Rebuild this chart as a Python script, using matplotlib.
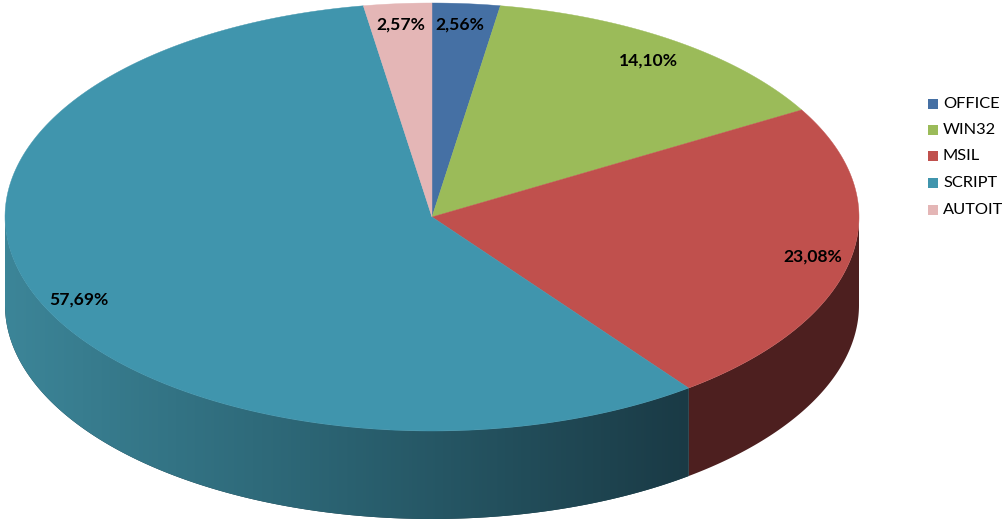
import numpy as np
import matplotlib
matplotlib.use("Agg")
import matplotlib.pyplot as plt
from matplotlib.patches import Polygon, Rectangle
from matplotlib.colors import LinearSegmentedColormap

categories = ["OFFICE", "WIN32", "MSIL", "SCRIPT", "AUTOIT"]
values = [2.56, 14.10, 23.08, 57.69, 2.57]
labels = ["2,56%", "14,10%", "23,08%", "57,69%", "2,57%"]
colors = ["#4570A4", "#9BBB59", "#C0504D", "#4095AD", "#E4B6B6"]
label_pos = [(460, 25), (648, 61), (813, 257), (79, 300), (401, 25)]
side_msil = "#4D1F1F"
side_script = ["#1A3A45", "#2A6170", "#3C8598"]

W, H = 1008, 529
cx, cy, rx, ry, depth = 432.0, 217.0, 427.0, 214.0, 88.0

plt.rcParams["font.family"] = ["Lato", "DejaVu Sans"]
fig = plt.figure(figsize=(W / 100, H / 100), dpi=100)
ax = fig.add_axes([0, 0, 1, 1])


def pt(a, dy=0.0):
    return cx + rx * np.sin(a), cy - ry * np.cos(a) + dy


def wall(a0, a1):
    aa = np.linspace(a0, a1, 300)
    x, y = pt(aa)
    x2, y2 = pt(aa[::-1], depth)
    return np.c_[np.r_[x, x2], np.r_[y, y2]]


edges = np.radians(np.concatenate([[0], np.cumsum(values)]) * 3.6 / (sum(values) / 100))

# side wall: MSIL part is flat (runs slightly under the SCRIPT wall so no seam shows)
ax.add_patch(Polygon(wall(np.pi / 2, edges[3]), closed=True, fc=side_msil, ec="none", zorder=1))

# side wall: SCRIPT part shades smoothly with x
script_wall = Polygon(wall(edges[3], 3 * np.pi / 2), closed=True, fc=side_script[0], ec="none", zorder=1.1)
ax.add_patch(script_wall)
cmap = LinearSegmentedColormap.from_list("side", [(0, side_script[2]), (0.5, side_script[1]), (1, side_script[0])])
grad = np.linspace(0, 1, 700).reshape(1, -1)
im = ax.imshow(grad, cmap=cmap, extent=(5, 690, H, 0), aspect="auto", zorder=1.2, interpolation="bilinear")
im.set_clip_path(script_wall)

# top face
for i, col in enumerate(colors):
    aa = np.linspace(edges[i], edges[i + 1], 200)
    x, y = pt(aa)
    ax.add_patch(Polygon(np.c_[np.r_[cx, x], np.r_[cy, y]], closed=True, fc=col, ec=col, lw=0.3, zorder=2))

for txt, (lx, ly) in zip(labels, label_pos):
    ax.text(lx, ly, txt, ha="center", va="center", fontsize=12.6, fontweight="bold", color="#000000", zorder=3)

# legend
leg_y = [103.5, 129.5, 156, 183, 210]
for name, col, ly in zip(categories, colors, leg_y):
    ax.add_patch(Rectangle((928, ly - 5), 10, 10, fc=col, ec="none", zorder=3))
    ax.text(943, ly, name, ha="left", va="center", fontsize=11.8, color="#000000", zorder=3)

ax.set_xlim(0, W)
ax.set_ylim(H, 0)
ax.axis("off")
fig.savefig("out.png", dpi=100, facecolor="white")
